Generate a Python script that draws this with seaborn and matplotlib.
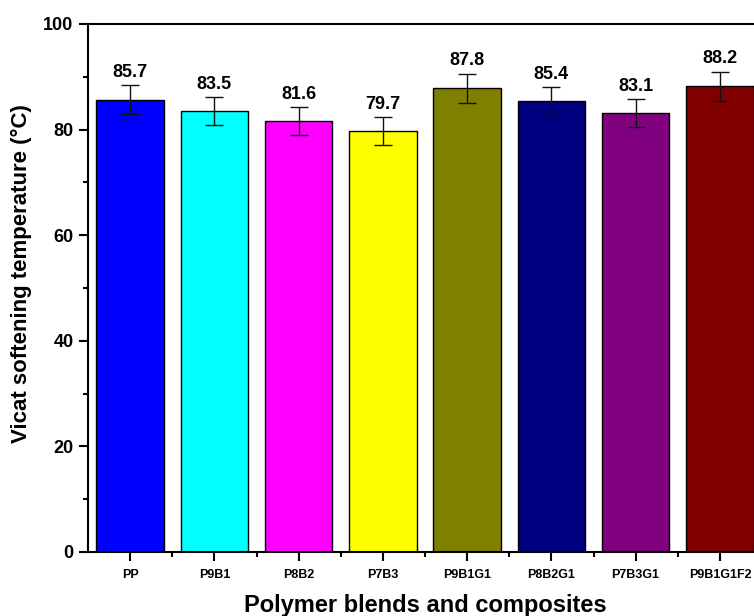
import matplotlib.pyplot as plt
import numpy as np
import pandas as pd
import seaborn as sns
from matplotlib.ticker import MultipleLocator, FixedLocator

# datos
muestras = ['PP', 'P9B1', 'P8B2', 'P7B3', 'P9B1G1', 'P8B2G1', 'P7B3G1', 'P9B1G1F2']
vicat = [85.7, 83.5, 81.6, 79.7, 87.8, 85.4, 83.1, 88.2]
error = [2.75, 2.7, 2.6, 2.6, 2.8, 2.7, 2.7, 2.8]
colores = ['#0000FF', '#00FFFF', '#FF00FF', '#FFFF00',
           '#808000', '#000080', '#800080', '#800000']

sns.set_style('white')
plt.rcParams['font.family'] = ['Liberation Sans', 'DejaVu Sans']
plt.rcParams['text.color'] = 'black'
plt.rcParams['axes.labelcolor'] = 'black'
plt.rcParams['xtick.color'] = 'black'
plt.rcParams['ytick.color'] = 'black'

df = pd.DataFrame({'muestra': muestras, 'vicat': vicat})

fig = plt.figure(figsize=(7.54, 6.16), dpi=100)
# el eje derecho queda fuera de la imagen como en el original
ax = fig.add_axes([88 / 754, 64 / 616, 674 / 754, 528 / 616])

sns.barplot(data=df, x='muestra', y='vicat', hue='muestra', palette=colores,
            legend=False, errorbar=None, width=0.8, edgecolor='black',
            linewidth=1, saturation=1, ax=ax)

x = np.arange(len(muestras))
ax.errorbar(x, vicat, yerr=error, fmt='none', ecolor='#111111',
            elinewidth=1, capsize=6.5, capthick=1)

# valores encima de las barras
for xi, v, e in zip(x, vicat, error):
    ax.text(xi, v + e + 0.8, f'{v:.1f}', ha='center', va='bottom',
            fontsize=13, fontweight='bold')

ax.set_xlim(-0.5, len(muestras) - 0.5)
ax.set_ylim(0, 100)
ax.yaxis.set_major_locator(MultipleLocator(20))
ax.yaxis.set_minor_locator(MultipleLocator(10))
ax.xaxis.set_minor_locator(FixedLocator(x[:-1] + 0.5))

ax.tick_params(axis='both', which='major', direction='out', length=6.5,
               width=1.5, left=True, bottom=True, top=False, right=False)
ax.tick_params(axis='both', which='minor', direction='out', length=3.5,
               width=1.5, left=True, bottom=True, top=False, right=False)
ax.tick_params(axis='y', labelsize=13, pad=4)
ax.tick_params(axis='x', labelsize=9, pad=6)
for lbl in ax.get_xticklabels() + ax.get_yticklabels():
    lbl.set_fontweight('bold')

for s in ax.spines.values():
    s.set_linewidth(1.5)
    s.set_color('black')

ax.set_xlabel('Polymer blends and composites', fontsize=17, fontweight='bold')
ax.set_ylabel('Vicat softening temperature (°C)', fontsize=16, fontweight='bold')
ax.xaxis.set_label_coords(0.5, -0.079)
ax.yaxis.set_label_coords(-0.083, 0.527)

fig.savefig('out.png', dpi=100)
